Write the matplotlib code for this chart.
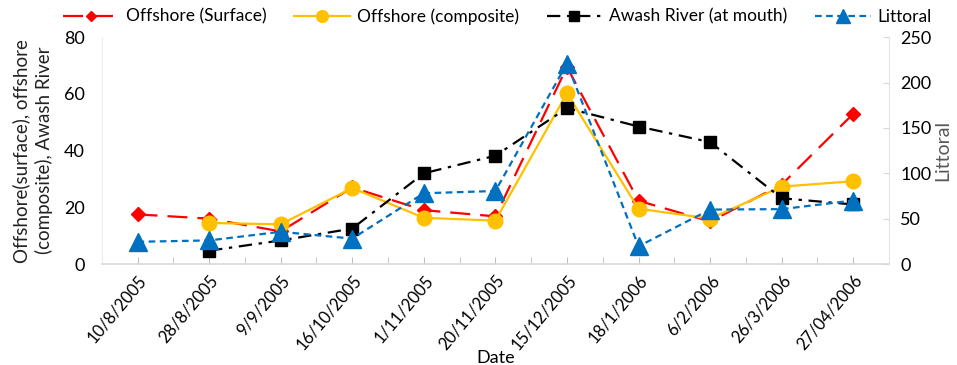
import matplotlib
matplotlib.use("Agg")
from matplotlib import pyplot as plt
import numpy as np

plt.rcParams['font.family'] = ['Lato', 'DejaVu Sans']

dates = ['10/8/2005', '28/8/2005', '9/9/2005', '16/10/2005', '1/11/2005',
         '20/11/2005', '15/12/2005', '18/1/2006', '6/2/2006', '26/3/2006',
         '27/04/2006']
offshore_surface = [17.5, 16.0, 11.5, 27.0, 19.0, 16.8, 69.5, 22.3, 15.0, 28.0, 53.0]
offshore_composite = [np.nan, 14.5, 14.0, 26.8, 16.3, 15.3, 60.2, 19.5, 16.0, 27.3, 29.2]
awash_river = [np.nan, 4.7, 8.3, 12.5, 32.0, 38.2, 55.0, 48.5, 43.0, 23.2, 21.0]
littoral = [24.5, 26.0, 35.5, 28.0, 78.0, 80.5, 221.0, 19.5, 60.0, 60.5, 70.0]

x = np.arange(len(dates))

fig = plt.figure(figsize=(9.57, 3.65), dpi=100)
ax = fig.add_axes([0.1063, 0.2767, 0.8227, 0.6213])
ax2 = ax.twinx()

l1, = ax.plot(x, offshore_surface, color='#FF0000', lw=1.6, dashes=(9, 4.5),
              marker='D', ms=7, label='Offshore (Surface)')
l2, = ax.plot(x, offshore_composite, color='#FFC000', lw=1.6,
              marker='o', ms=10.5, label='Offshore (composite)')
l3, = ax.plot(x, awash_river, color='black', lw=1.6, dashes=(6, 3, 1.5, 3),
              marker='s', ms=8.5, label='Awash River (at mouth)')
l4, = ax2.plot(x, littoral, color='#0070C0', lw=1.6, dashes=(3, 2),
               marker='^', ms=13, label='Littoral')

ax.set_xlim(-0.5, len(dates) - 0.5)
ax.set_ylim(0, 80)
ax.set_yticks([0, 20, 40, 60, 80])
ax2.set_ylim(0, 250)
ax2.set_yticks([0, 50, 100, 150, 200, 250])

ax.set_xticks(x)
ax.set_xticks(np.arange(-0.5, len(dates), 1), minor=True)
ax.set_xticklabels(dates, rotation=50, ha='right', rotation_mode='anchor', fontsize=12)
ax.tick_params(axis='x', which='both', direction='in', length=5, color='#BFBFBF', pad=6)
ax.tick_params(axis='y', length=0, labelsize=13, pad=12)
ax2.tick_params(axis='y', direction='in', length=4, color='#D9D9D9', labelsize=13, pad=8)

for a in (ax, ax2):
    for s in a.spines.values():
        s.set_visible(False)
ax.spines['bottom'].set_visible(True)
ax.spines['bottom'].set_color('#D9D9D9')
ax.spines['bottom'].set_linewidth(1.2)
ax.spines['left'].set_visible(True)
ax.spines['left'].set_color('#EDEDED')
ax2.spines['right'].set_visible(True)
ax2.spines['right'].set_color('#E3E3E3')

ax.set_xlabel('Date', fontsize=13, labelpad=-2)
ax.set_ylabel('Offshore(surface), offshore\n(composite), Awash River', fontsize=13.5,
              color='#222222', labelpad=8, linespacing=1.35)
ax2.set_ylabel('Littoral', fontsize=14, color='#595959', labelpad=2)

fig.legend(handles=[l1, l2, l3, l4], loc='upper center', bbox_to_anchor=(0.52, 1.02),
           ncol=4, frameon=False, fontsize=12.5, handlelength=3.2,
           columnspacing=1.6, handletextpad=0.4, markerscale=0.8)

fig.savefig('out.png', dpi=100)
